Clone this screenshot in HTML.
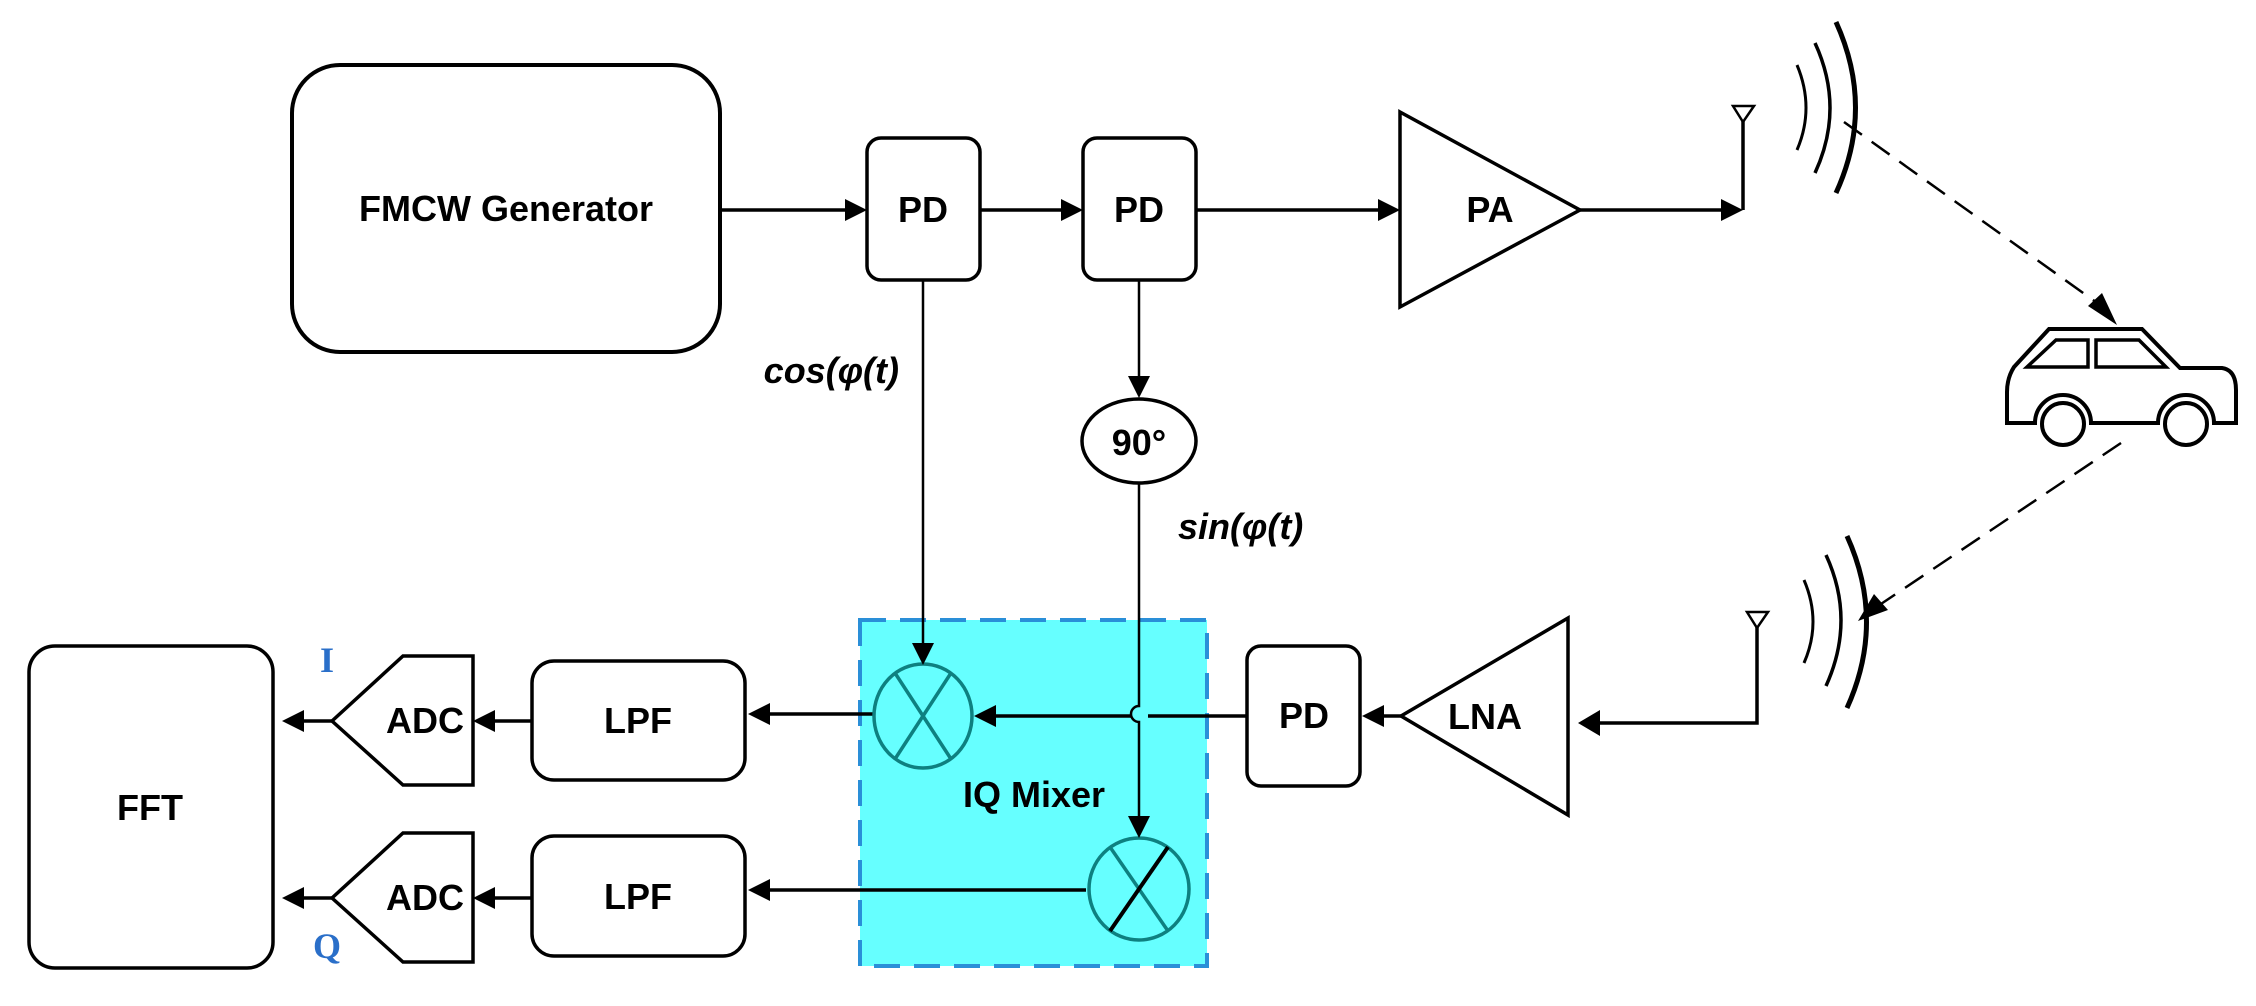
<!DOCTYPE html>
<html><head><meta charset="utf-8"><style>
html,body{margin:0;padding:0;background:#fff}
svg{display:block}
text{font-family:"Liberation Sans",sans-serif;font-weight:bold;fill:#000}
</style></head><body>
<svg width="2256" height="1006" viewBox="0 0 2256 1006" xmlns="http://www.w3.org/2000/svg">
<g fill="none" stroke="#000" stroke-width="3.5">
<rect x="860" y="620" width="347" height="346" fill="#66ffff" stroke="#2a8fd8" stroke-width="4" stroke-dasharray="26,14"/>
<rect x="292" y="65" width="428" height="287" rx="48" stroke-width="4"/>
<rect x="867" y="138" width="113" height="142" rx="14"/>
<rect x="1083" y="138" width="113" height="142" rx="14"/>
<rect x="1247" y="646" width="113" height="140" rx="14"/>
<rect x="532" y="661" width="213" height="119" rx="22"/>
<rect x="532" y="836" width="213" height="120" rx="22"/>
<rect x="29" y="646" width="244" height="322" rx="26"/>
<polygon points="332,721 403,656 473,656 473,785 403,785"/>
<polygon points="332,898 403,833 473,833 473,962 403,962"/>
<polygon points="1400,112 1580,210 1400,307"/>
<polygon points="1568,618 1401,716 1568,815"/>
<ellipse cx="1139" cy="441" rx="57" ry="42"/>
<line x1="720" y1="210" x2="850" y2="210"/>
<line x1="980" y1="210" x2="1066" y2="210"/>
<line x1="1196" y1="210" x2="1383" y2="210"/>
<line x1="1580" y1="210" x2="1726" y2="210"/>
<line x1="1743" y1="210" x2="1743" y2="118"/>
<polygon points="1733,106 1754,106 1743,122" stroke-width="2.5" fill="#fff"/>
<line x1="923" y1="280" x2="923" y2="645" stroke-width="2.5"/>
<line x1="1139" y1="280" x2="1139" y2="382" stroke-width="2.5"/>
<path d="M1139,483 V706 a8,8 0 0 0 0,16 V820" stroke-width="2.5"/>
<path d="M1247,716 H1148 M1131,716 H995"/>
<line x1="874" y1="714" x2="765" y2="714"/>
<line x1="1086" y1="890" x2="765" y2="890"/>
<line x1="532" y1="721" x2="490" y2="721"/>
<line x1="532" y1="898" x2="490" y2="898"/>
<line x1="332" y1="721" x2="298" y2="721"/>
<line x1="332" y1="898" x2="298" y2="898"/>
<line x1="1401" y1="716" x2="1378" y2="716"/>
<path d="M1757,622 V723 H1595"/>
<polygon points="1747,612 1768,612 1757,628" stroke-width="2.5" fill="#fff"/>
<path d="M1797,65 Q1815,108 1797,150" stroke-width="3"/>
<path d="M1815,43 Q1845,108 1815,173" stroke-width="3.5"/>
<path d="M1836,22 Q1875,108 1836,193" stroke-width="5"/>
<path d="M1804,580 Q1822,622 1804,663" stroke-width="3"/>
<path d="M1826,555 Q1856,620 1826,686" stroke-width="3.5"/>
<path d="M1847,536 Q1886,622 1847,708" stroke-width="5"/>
<line x1="1844" y1="122" x2="2100" y2="305" stroke-width="2.5" stroke-dasharray="22,12"/>
<line x1="2121" y1="443" x2="1875" y2="608" stroke-width="2.5" stroke-dasharray="22,12"/>
<!-- car -->
<path d="M2007,423 V392 Q2007,378 2014,367 L2049,329 H2142 L2180,368 H2222 Q2236,370 2236,390 V423 H2214 A28,28 0 0 0 2158,423 H2091 A28,28 0 0 0 2035,423 Z" stroke-width="4"/>
<path d="M2027,367 L2056,340 H2088 V367 Z M2096,340 H2139 L2166,367 H2096 Z" stroke-width="3.5"/>
<circle cx="2063" cy="424" r="21" stroke-width="4" fill="#fff"/>
<circle cx="2186" cy="424" r="21" stroke-width="4" fill="#fff"/>
<g stroke="#0e8080" stroke-width="3.5">
<ellipse cx="923" cy="716" rx="49" ry="52"/>
<line x1="895" y1="673" x2="951" y2="759"/><line x1="951" y1="673" x2="895" y2="759"/>
<ellipse cx="1139" cy="889" rx="50" ry="51"/>
<line x1="1110" y1="847" x2="1168" y2="931"/>
</g>
<line x1="1168" y1="847" x2="1110" y2="931" stroke-width="4"/>
</g>
<g fill="#000">
<polygon points="867,210 845,199 845,221"/>
<polygon points="1083,210 1061,199 1061,221"/>
<polygon points="1400,210 1378,199 1378,221"/>
<polygon points="1743,210 1721,199 1721,221"/>
<polygon points="923,665 912,643 934,643"/>
<polygon points="1139,398 1128,376 1150,376"/>
<polygon points="1139,838 1128,816 1150,816"/>
<polygon points="974,716 996,705 996,727"/>
<polygon points="748,714 770,703 770,725"/>
<polygon points="748,890 770,879 770,901"/>
<polygon points="473,721 495,710 495,732"/>
<polygon points="473,898 495,887 495,909"/>
<polygon points="282,721 304,710 304,732"/>
<polygon points="282,898 304,887 304,909"/>
<polygon points="1362,716 1384,705 1384,727"/>
<polygon points="1578,723 1600,710 1600,736"/>
<polygon points="2117,325 2088,306 2102,293"/>
<polygon points="1858,621 1874,594 1888,610"/>
</g>
<g font-size="36" text-anchor="middle">
<text x="506" y="221">FMCW Generator</text>
<text x="923" y="222">PD</text>
<text x="1139" y="222">PD</text>
<text x="1304" y="728">PD</text>
<text x="1490" y="222">PA</text>
<text x="1485" y="729">LNA</text>
<text x="638" y="733">LPF</text>
<text x="638" y="909">LPF</text>
<text x="425" y="733">ADC</text>
<text x="425" y="910">ADC</text>
<text x="150" y="820">FFT</text>
<text x="1034" y="807">IQ Mixer</text>
<text x="1139" y="455" font-weight="normal">90°</text>
<text x="899" y="383" text-anchor="end" font-style="italic">cos(φ(t)</text>
<text x="1178" y="539" text-anchor="start" font-style="italic">sin(φ(t)</text>
</g>
<text x="327" y="672" font-size="36" text-anchor="middle" style="font-family:'Liberation Serif',serif;fill:#2a6fc9;font-weight:bold">I</text>
<text x="327" y="958" font-size="36" text-anchor="middle" style="font-family:'Liberation Serif',serif;fill:#2a6fc9;font-weight:bold">Q</text>
</svg>
</body></html>
